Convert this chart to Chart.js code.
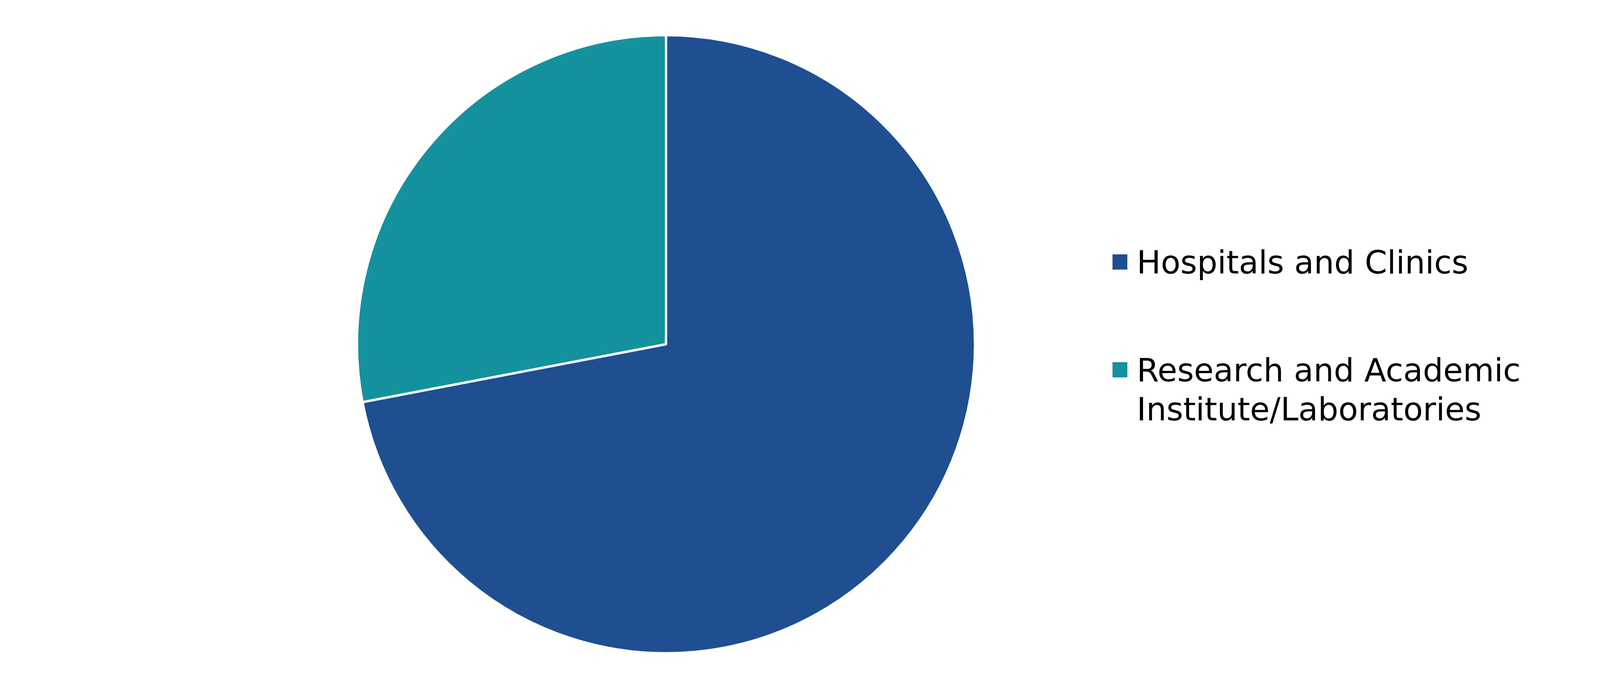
<!DOCTYPE html>
<html>
<head>
<meta charset="utf-8">
<title>End user share</title>
<script src="https://cdn.jsdelivr.net/npm/chart.js@4/dist/chart.umd.min.js"></script>
<style>
    html, body { margin: 0; padding: 0; background: #fff; }
    body { width: 4501px; height: 1784px; position: relative; overflow: hidden; font-family: "DejaVu Sans", Verdana, sans-serif; }
    #pieWrap { position: absolute; left: 911px; top: 87px; width: 1588px; height: 1588px; }
    #legend { position: absolute; left: 2848px; top: 622px; }
    .lg-item { position: relative; padding-left: 62px; width: 1150px; font-size: 82px; line-height: 100px; color: #000; margin-bottom: 176px; }
    .lg-box { position: absolute; left: 0; top: 29px; width: 38px; height: 39px; }
</style>
</head>
<body>
<div id="pieWrap"><canvas id="pie"></canvas></div>
<div id="legend"></div>
<script>
// data
const categories = ['Hospitals and Clinics', 'Research and Academic Institute/Laboratories'];
const shares = [72, 28];
const colors = ['#1F4F91', '#13929E'];

function buildLegend(chart){
    const box = document.getElementById('legend');
    box.innerHTML = '';
    chart.data.labels.forEach((lbl, i)=>{
        const item = document.createElement('div');
        item.className = 'lg-item';
        const sw = document.createElement('span');
        sw.className = 'lg-box';
        sw.style.background = chart.data.datasets[0].backgroundColor[i];
        item.appendChild(sw);
        item.appendChild(document.createTextNode(lbl));
        box.appendChild(item);
    });
}

const ctx = document.getElementById('pie').getContext('2d');
const chart = new Chart(ctx, {
    type: 'pie',
    data: {
        labels: categories,
        datasets: [{
            data: shares,
            backgroundColor: colors,
            borderColor: '#ffffff',
            borderWidth: 6
        }]
    },
    options: {
        responsive: true,
        maintainAspectRatio: false,
        animation: false,
        layout: { padding: 0 },
        plugins: { legend: { display: false }, tooltip: { enabled: false } }
    }
});
buildLegend(chart);
</script>
</body>
</html>
